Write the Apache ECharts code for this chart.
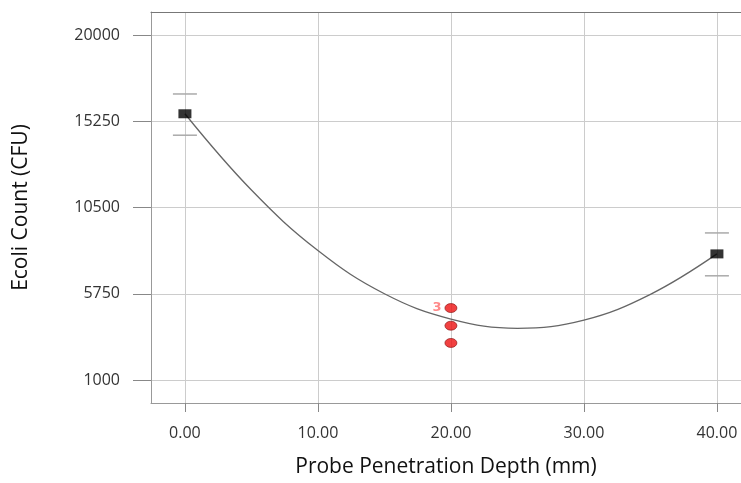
<!DOCTYPE html>
<html>
<head>
<meta charset="utf-8">
<script src="https://cdn.jsdelivr.net/npm/echarts@6/dist/echarts.min.js"></script>
<style>html,body{margin:0;padding:0;background:#fff}#c{width:741px;height:483px}</style>
</head>
<body>
<div id="c"></div>
<script>
// Tick values
const xTicks = [0, 10, 20, 30, 40];
const yTicks = [1000, 5750, 10500, 15250, 20000];
// Design points (black squares)
const designX = [0, 40];
const designY = [15660, 7946];
// Error bar ends (low, high) for design points
const errLow = [14480, 6740];
const errHigh = [16750, 9100];
// Replicate points at center (red)
const centerX = [20, 20, 20];
const centerY = [4964, 3993, 3043];
// Fitted curve
const curveX = [0, 5, 10, 15, 20, 25, 30, 35, 40];
const curveY = [15660, 11460, 8130, 5750, 4360, 3850, 4300, 5720, 7946];

const chart = echarts.init(document.getElementById('c'), null, {renderer: 'canvas'});
const FONT = 'Open Sans';
chart.setOption({
  animation: false,
  grid: {left: 151, top: 12, width: 590, height: 392, show: false, containLabel: false},
  xAxis: [{
    type: 'value', min: -2.55, max: 41.81,
    name: 'Probe Penetration Depth (mm)', nameLocation: 'middle', nameGap: 54,
    nameTextStyle: {fontFamily: FONT, fontSize: 21, color: '#111'},
    axisLine: {show: true, onZero: false, lineStyle: {color: '#999'}},
    axisTick: {show: true, length: 9, customValues: xTicks, lineStyle: {color: '#888'}},
    axisLabel: {customValues: xTicks, margin: 22, fontFamily: FONT, fontSize: 16, color: '#333', formatter: v => v.toFixed(2)},
    splitLine: {show: true, lineStyle: {color: '#ccc', width: 1}}
  }, {
    type: 'value', position: 'top', min: -2.55, max: 41.81,
    axisLine: {show: true, onZero: false, lineStyle: {color: '#777'}},
    axisTick: {show: false}, axisLabel: {show: false}, splitLine: {show: false}
  }],
  yAxis: {
    type: 'value', min: -263, max: 21263,
    name: 'Ecoli Count (CFU)', nameLocation: 'middle', nameGap: 119,
    nameTextStyle: {fontFamily: FONT, fontSize: 21, color: '#111'},
    axisLine: {show: true, onZero: false, lineStyle: {color: '#999'}},
    axisTick: {show: true, length: 18, customValues: yTicks, lineStyle: {color: '#888'}},
    axisLabel: {customValues: yTicks, margin: 31, fontFamily: FONT, fontSize: 16, color: '#333', formatter: v => String(v)},
    splitLine: {show: true, lineStyle: {color: '#ccc', width: 1}}
  },
  series: [
    {
      type: 'line', smooth: 0.4, showSymbol: false, silent: true,
      data: curveX.map((x, i) => [x, curveY[i]]),
      lineStyle: {color: '#666', width: 1.3}, z: 3
    },
    {
      type: 'custom', silent: true, z: 2,
      data: designX.map((x, i) => [x, errLow[i], errHigh[i]]),
      renderItem: function (params, api) {
        const lo = api.coord([api.value(0), api.value(1)]);
        const hi = api.coord([api.value(0), api.value(2)]);
        const w = 12;
        const st = {stroke: '#aaa', lineWidth: 1.5};
        return {type: 'group', children: [
          {type: 'line', shape: {x1: lo[0] - w, y1: lo[1], x2: lo[0] + w, y2: lo[1]}, style: st},
          {type: 'line', shape: {x1: hi[0] - w, y1: hi[1], x2: hi[0] + w, y2: hi[1]}, style: st}
        ]};
      }
    },
    {
      type: 'scatter', symbol: 'rect', symbolSize: [13, 9], z: 5,
      itemStyle: {color: '#000'},
      data: designX.map((x, i) => [x, designY[i]])
    },
    {
      type: 'scatter', symbol: 'circle', symbolSize: [12, 9], z: 5,
      itemStyle: {color: '#ee1111', borderColor: '#881111', borderWidth: 0.8},
      data: centerX.map((x, i) => i === 0 ? {value: [x, centerY[i]], label: {show: true, formatter: '3', position: 'left', distance: 3, color: '#ff6b6b', fontWeight: 'bold', fontSize: 13, fontFamily: 'DejaVu Sans'}} : [x, centerY[i]])
    }
  ]
});
</script>
</body>
</html>
